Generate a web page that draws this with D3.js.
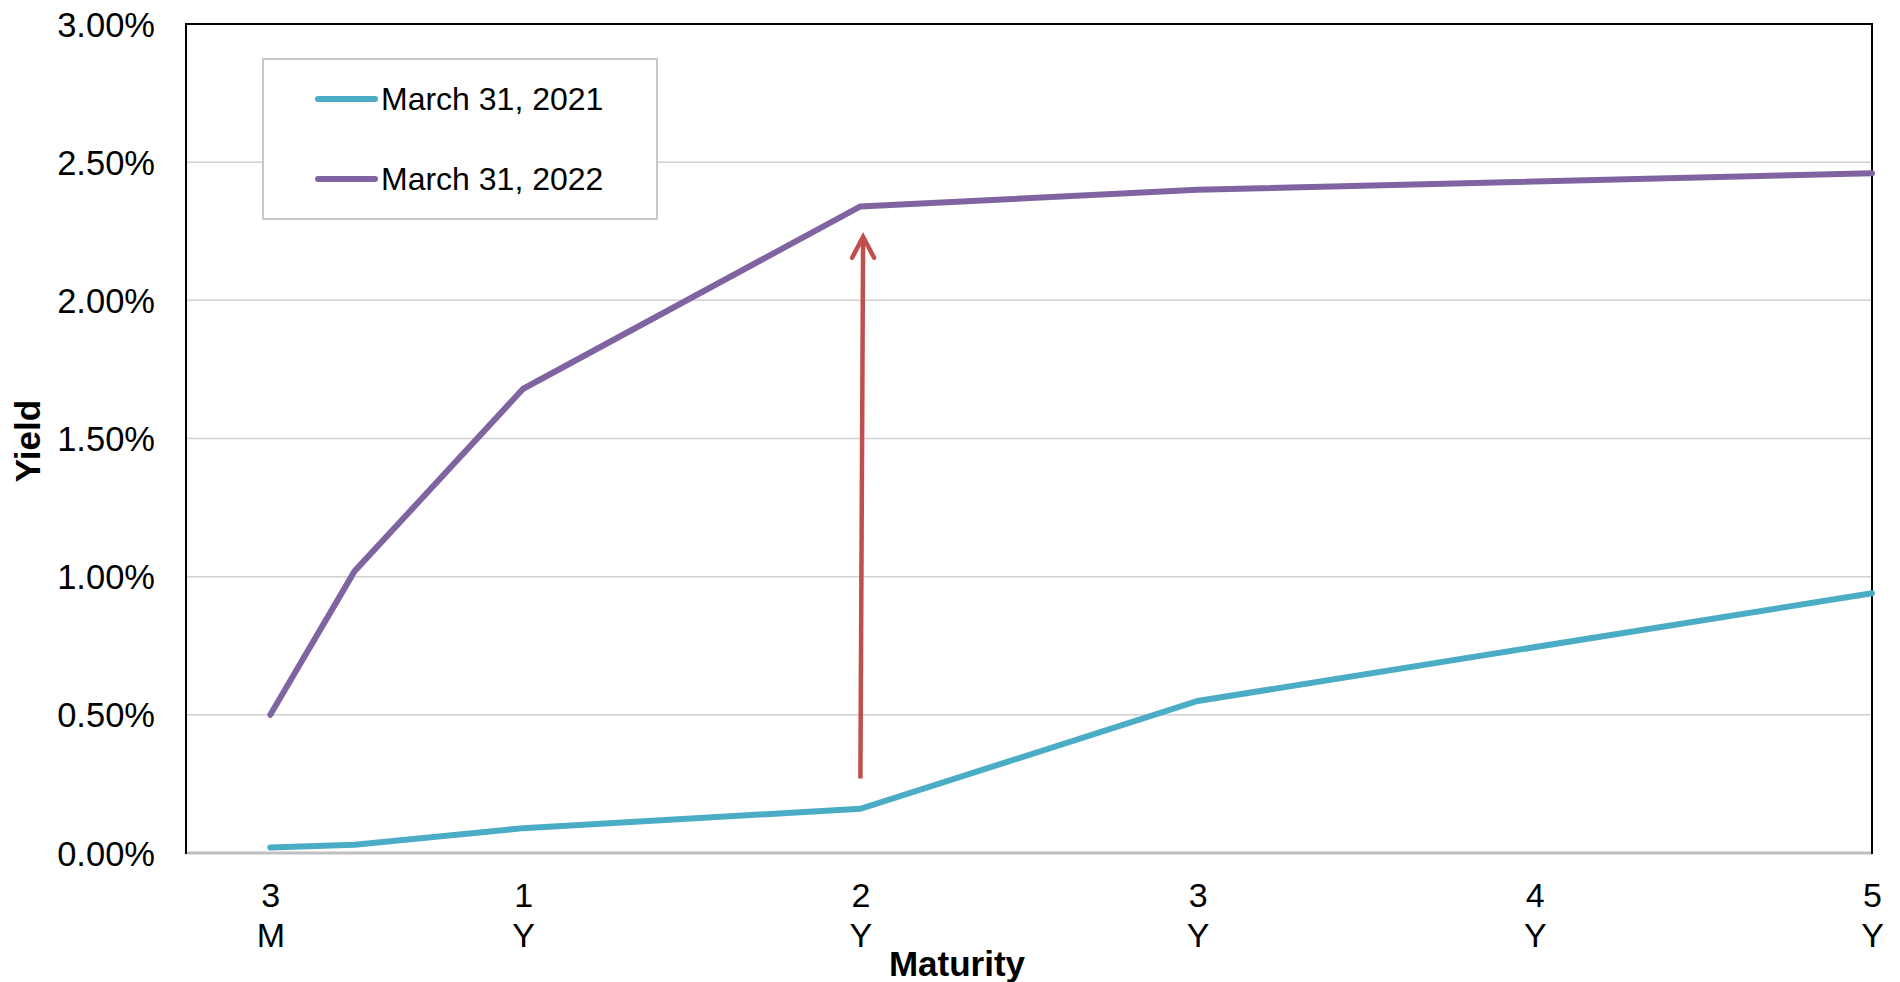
<!DOCTYPE html>
<html>
<head>
<meta charset="utf-8">
<script src="https://cdn.jsdelivr.net/npm/d3@7/dist/d3.min.js"></script>
<style>
  html, body { margin: 0; padding: 0; background: #ffffff; }
  svg { display: block; font-family: "Liberation Sans", Arial, sans-serif; }
</style>
</head>
<body>
<svg id="chart" width="1900" height="982"></svg>
<script>
// Maturities in years and their two-line labels
const maturities = [0.25, 0.5, 1, 2, 3, 5];
const tickYears = [0.25, 1, 2, 3, 4, 5];
const tickLabels = [["3", "M"], ["1", "Y"], ["2", "Y"], ["3", "Y"], ["4", "Y"], ["5", "Y"]];

// Yields (%) by maturity
const yields2021 = [0.02, 0.03, 0.09, 0.16, 0.55, 0.94];
const yields2022 = [0.50, 1.02, 1.68, 2.34, 2.40, 2.46];

const seriesNames = ["March 31, 2021", "March 31, 2022"];
const seriesColors = ["#4BACC6", "#8064A2"];

const yTicks = [0, 0.5, 1, 1.5, 2, 2.5, 3];

// Annotation arrow at 2Y: [years, yield %] from tail to tip
const arrowFrom = [2.0, 0.27];
const arrowTo = [2.008, 2.23];

const svg = d3.select("#chart");
const plotLeft = 186, plotRight = 1872, plotTop = 24, plotBottom = 853;

const x = d3.scaleLinear().domain([0, 5]).range([plotLeft, plotRight]);
const y = d3.scaleLinear().domain([0, 3]).range([plotBottom, plotTop]);

// horizontal gridlines
svg.append("g")
  .selectAll("line")
  .data(yTicks.filter(v => v > 0 && v < 3))
  .join("line")
  .attr("x1", plotLeft).attr("x2", plotRight)
  .attr("y1", d => y(d)).attr("y2", d => y(d))
  .attr("stroke", "#d0d0d0").attr("stroke-width", 1.5);

// y axis labels
const yAxis = d3.axisLeft(y).tickValues(yTicks).tickSize(0).tickPadding(31)
  .tickFormat(d => d.toFixed(2) + "%");
const gy = svg.append("g").attr("transform", `translate(${plotLeft},0)`).call(yAxis);
gy.select(".domain").remove();
gy.selectAll("text")
  .attr("font-size", 34.5).attr("fill", "#000")
  .attr("font-family", "Liberation Sans, Arial, sans-serif")
  .attr("dy", "0.35em");

// x axis labels (two lines each)
const xAxis = d3.axisBottom(x).tickValues(tickYears).tickSize(0).tickFormat("");
const gx = svg.append("g").attr("transform", `translate(0,${plotBottom})`).call(xAxis);
gx.select(".domain").remove();
gx.selectAll(".tick").each(function(d, i) {
  const t = d3.select(this).append("text")
    .attr("text-anchor", "middle")
    .attr("font-size", 34).attr("fill", "#000")
    .attr("font-family", "Liberation Sans, Arial, sans-serif");
  t.append("tspan").attr("x", 0).attr("y", 54).text(tickLabels[i][0]);
  t.append("tspan").attr("x", 0).attr("y", 94).text(tickLabels[i][1]);
});

// plot frame
svg.append("line").attr("x1", plotLeft).attr("x2", plotRight).attr("y1", plotBottom).attr("y2", plotBottom)
  .attr("stroke", "#bfbfbf").attr("stroke-width", 3);
svg.append("path")
  .attr("d", `M${plotLeft},${plotBottom + 1}V${plotTop}H${plotRight}V${plotBottom + 1}`)
  .attr("fill", "none").attr("stroke", "#000").attr("stroke-width", 2);

// yield curves
const line = d3.line().x(d => x(d[0])).y(d => y(d[1]));
[yields2021, yields2022].forEach((vals, i) => {
  svg.append("path")
    .datum(maturities.map((m, j) => [m, vals[j]]))
    .attr("d", line)
    .attr("fill", "none")
    .attr("stroke", seriesColors[i])
    .attr("stroke-width", 6)
    .attr("stroke-linejoin", "miter")
    .attr("stroke-linecap", "round");
});

// arrow showing the rise at 2Y
const ax0 = x(arrowFrom[0]), ay0 = y(arrowFrom[1]);
const ax1 = x(arrowTo[0]), ay1 = y(arrowTo[1]);
svg.append("line")
  .attr("x1", ax0).attr("y1", ay0).attr("x2", ax1).attr("y2", ay1 + 2)
  .attr("stroke", "#C0504D").attr("stroke-width", 4.5);
svg.append("path")
  .attr("d", `M${ax1 - 11},${ay1 + 21}L${ax1},${ay1}L${ax1 + 11},${ay1 + 21}`)
  .attr("fill", "none").attr("stroke", "#C0504D").attr("stroke-width", 4.5)
  .attr("stroke-linecap", "round").attr("stroke-linejoin", "miter");

// legend
const lg = svg.append("g");
lg.append("rect").attr("x", 263).attr("y", 59).attr("width", 394).attr("height", 160)
  .attr("fill", "#fff").attr("stroke", "#c8c8c8").attr("stroke-width", 2);
seriesNames.forEach((name, i) => {
  const cy = 99 + i * 80;
  lg.append("line").attr("x1", 318).attr("x2", 375).attr("y1", cy).attr("y2", cy)
    .attr("stroke", seriesColors[i]).attr("stroke-width", 6).attr("stroke-linecap", "round");
  lg.append("text").attr("x", 381).attr("y", cy + 11)
    .attr("font-size", 32).attr("fill", "#000").text(name);
});

// axis titles
svg.append("text").attr("x", 957).attr("y", 976).attr("text-anchor", "middle")
  .attr("font-size", 35).attr("font-weight", "bold").attr("fill", "#000").text("Maturity");
svg.append("text").attr("transform", "translate(40,441) rotate(-90)").attr("text-anchor", "middle")
  .attr("font-size", 35).attr("font-weight", "bold").attr("fill", "#000").text("Yield");
</script>
</body>
</html>
